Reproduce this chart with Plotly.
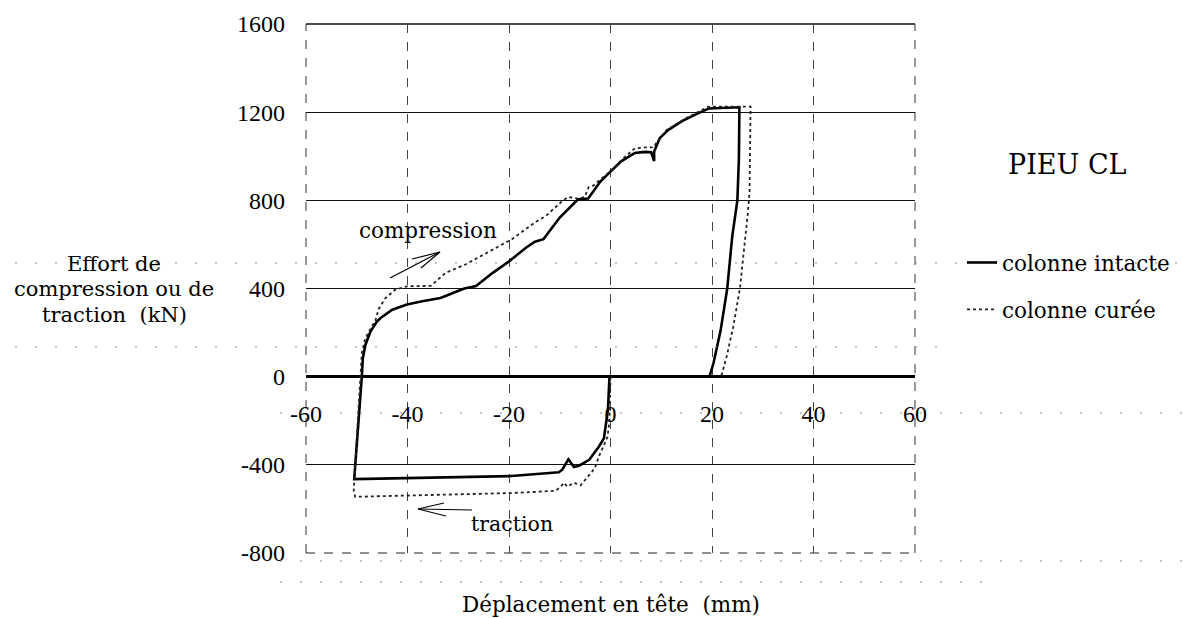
import plotly.graph_objects as go

# ---------------- data ----------------
x_intacte = [-0.2, -0.5, -1.3, -2.3, -4.2, -6.2, -7.2, -8.3, -9.5, -10.2, -19.5, -39.3, -50.5,
             -49.0, -48.8, -48.3, -47.3, -46.0, -45.3, -43.0, -40.1, -37.1, -33.5, -29.8, -28.8,
             -26.5, -23.2, -19.9, -16.6, -14.9, -13.2, -10.0, -6.4, -4.4, -2.0, 0.0, 2.1, 4.8,
             6.8, 8.0, 8.6, 8.6, 9.7, 11.4, 14.1, 16.7, 19.4, 25.4,
             25.3, 25.0, 24.0, 23.0, 21.7, 20.3, 19.5]
y_intacte = [0, -150, -280, -318, -377, -404, -410, -375, -422, -434, -451, -459, -465,
             0, 84, 144, 205, 251, 266, 304, 327, 342, 357, 391, 400,
             411, 471, 525, 586, 612, 624, 722, 805, 808, 885, 930, 977, 1015,
             1020, 1018, 978, 1022, 1082, 1120, 1159, 1189, 1217, 1222,
             990, 800, 639, 400, 210, 62, 0]

x_curee = [0.0, -0.2, -0.6, -2.3, -2.9, -3.6, -5.9, -7.2, -8.5, -9.2, -9.8, -10.9, -19.5, -39.3,
           -50.3, -50.6, -49.3, -49.0, -48.3, -46.3, -45.7, -44.4, -42.4, -40.1, -35.4, -32.5,
           -28.5, -23.2, -19.4, -14.9, -12.7, -9.7, -8.4, -6.4, -5.1, -4.3, -3.3, -2.0, 0.0,
           2.5, 4.8, 6.8, 8.5, 9.0, 11.1, 15.0, 18.3, 19.3, 27.6,
           27.4, 27.1, 26.4, 25.5, 24.2, 22.9, 21.8]
y_curee = [0, -200, -274, -362, -404, -430, -493, -481, -499, -481, -500, -518, -528, -540,
           -545, -520, 0, 108, 175, 257, 306, 355, 395, 410, 412, 471,
           510, 578, 624, 700, 730, 793, 815, 808, 815, 860, 868, 895, 932,
           990, 1036, 1040, 1040, 1060, 1120, 1174, 1212, 1225, 1225,
           840, 750, 589, 400, 228, 93, 0]

x_ticks = [-60, -40, -20, 0, 20, 40, 60]
x_ticktext = ["-60", "-40", "-20", "0", "20", "40", "60"]
y_ticks = [-800, -400, 0, 400, 800, 1200, 1600]
y_ticktext = ["-800", "-400", "0", "400", "800", "1200", "1600"]

series_names = ["colonne intacte", "colonne curée"]
title_text = "PIEU CL"
x_title = "Déplacement en tête\u00a0 (mm)"
y_title_lines = ["Effort de", "compression ou de", "traction\u00a0 (kN)"]
label_comp = "compression"
label_trac = "traction"

# ---------------- layout helpers (pixel -> paper) ----------------
L, R, T, B = 306, 915, 24, 553
W, H = 1183, 618


def px(xp):
    return (xp - L) / (R - L)


def py(yp):
    return (B - yp) / (B - T)


SERIF = "DejaVu Serif"
TSERIF = "Liberation Serif"

fig = go.Figure()
fig.add_trace(go.Scatter(x=x_intacte, y=y_intacte, mode="lines", name=series_names[0],
                         line=dict(color="black", width=2.6), legendgroup="a"))
fig.add_trace(go.Scatter(x=x_curee, y=y_curee, mode="lines", name=series_names[1],
                         line=dict(color="#222222", width=1.8, dash="dot"), legendgroup="b"))

annotations = []
for i, (txt, cy) in enumerate(zip(y_title_lines, [264, 289, 315])):
    annotations.append(dict(x=px(114), y=py(cy), xref="paper", yref="paper", text=txt,
                            showarrow=False, xanchor="center", yanchor="middle",
                            font=dict(family=SERIF, size=21, color="black")))
annotations.append(dict(x=px(611), y=py(604), xref="paper", yref="paper", text=x_title,
                        showarrow=False, xanchor="center", yanchor="middle",
                        font=dict(family=SERIF, size=21.5, color="black")))
annotations.append(dict(x=px(1067), y=py(164), xref="paper", yref="paper", text=title_text,
                        showarrow=False, xanchor="center", yanchor="middle",
                        font=dict(family=SERIF, size=27, color="black")))
annotations.append(dict(x=px(428), y=py(231), xref="paper", yref="paper", text=label_comp,
                        showarrow=False, xanchor="center", yanchor="middle",
                        font=dict(family=SERIF, size=21.5, color="black")))
annotations.append(dict(x=px(512), y=py(524), xref="paper", yref="paper", text=label_trac,
                        showarrow=False, xanchor="center", yanchor="middle",
                        font=dict(family=SERIF, size=20.5, color="black")))

shapes = []


def seg(x0, y0, x1, y1, width=1.2, dash="solid", color="black"):
    shapes.append(dict(type="line", xref="paper", yref="paper",
                       x0=px(x0), y0=py(y0), x1=px(x1), y1=py(y1),
                       line=dict(color=color, width=width, dash=dash), layer="above"))


# plot frame (top solid, other sides dashed like the scan)
shapes.append(dict(type="line", xref="paper", yref="paper", x0=0, x1=1, y0=1, y1=1,
                   line=dict(color="#111111", width=1.3), layer="below"))
shapes.append(dict(type="line", xref="paper", yref="paper", x0=0, x1=1, y0=0, y1=0,
                   line=dict(color="#222222", width=1.2, dash="dash"), layer="below"))
shapes.append(dict(type="line", xref="paper", yref="paper", x0=0, x1=0, y0=0, y1=1,
                   line=dict(color="#333333", width=1, dash="dash"), layer="below"))
shapes.append(dict(type="line", xref="paper", yref="paper", x0=1, x1=1, y0=0, y1=1,
                   line=dict(color="#333333", width=1, dash="dash"), layer="below"))

# compression arrow
seg(390, 278, 440, 252)
seg(440, 252, 412, 259)
seg(440, 252, 421, 268)
# traction arrow
seg(472, 510, 418, 509)
seg(418, 509, 444, 503)
seg(418, 509, 446, 516)

# faint dotted scan lines
for (xa, xb, yy) in [(15, 1183, 263), (15, 950, 347), (280, 1183, 413), (280, 1183, 561), (280, 1000, 582)]:
    seg(xa, yy, xb, yy, width=1, dash="2px,18px", color="#8a8a8a")

fig.update_layout(
    width=W, height=H,
    margin=dict(l=L, r=W - R, t=T, b=H - B, autoexpand=False),
    paper_bgcolor="white", plot_bgcolor="white",
    showlegend=True,
    legend=dict(x=px(962), y=py(242), xanchor="left", yanchor="top",
                font=dict(family=SERIF, size=21.5, color="black"),
                bgcolor="rgba(0,0,0,0)", itemwidth=30, tracegroupgap=16,
                traceorder="grouped"),
    annotations=annotations,
    shapes=shapes,
    xaxis=dict(range=[-60, 60], tickvals=x_ticks, ticktext=x_ticktext,
               anchor="free", position=800 / 2400,
               showgrid=True, gridcolor="#444444", gridwidth=1, griddash="dash",
               zeroline=False, showline=False, ticks="",
               ticklabelstandoff=20,
               tickfont=dict(family=TSERIF, size=24, color="black")),
    yaxis=dict(range=[-800, 1600], tickvals=y_ticks, ticktext=y_ticktext,
               showgrid=True, gridcolor="#111111", gridwidth=1.1,
               zeroline=True, zerolinecolor="black", zerolinewidth=2.6,
               showline=False, ticks="", ticklabelstandoff=20,
               tickfont=dict(family=TSERIF, size=24, color="black")),
)

fig.write_html("out.html")
